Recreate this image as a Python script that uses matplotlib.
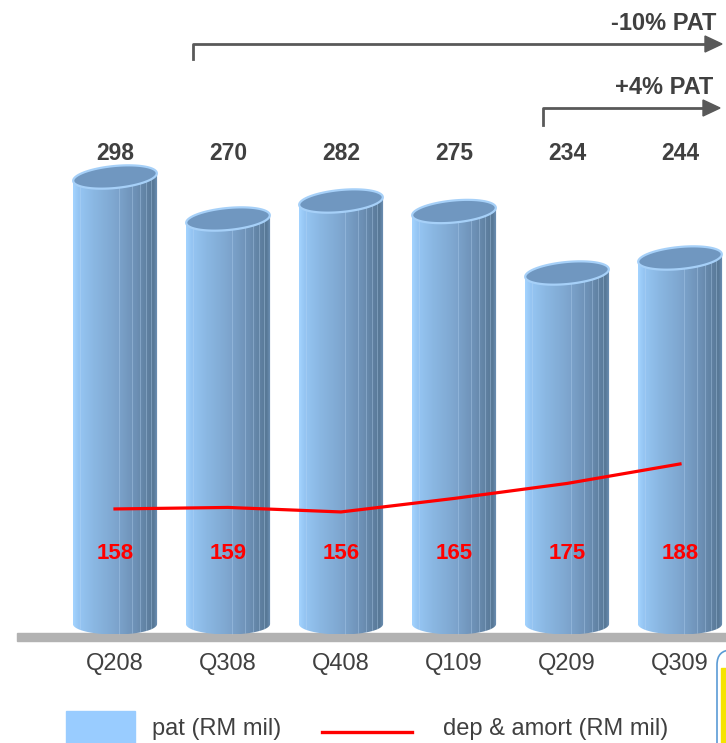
import numpy as np
import matplotlib
matplotlib.use("Agg")
import matplotlib.pyplot as plt
from matplotlib.patches import PathPatch, Rectangle, Polygon, FancyBboxPatch
from matplotlib.path import Path
from matplotlib.colors import LinearSegmentedColormap
from matplotlib.lines import Line2D

# data
quarters = ["Q208", "Q308", "Q408", "Q109", "Q209", "Q309"]
pat = [298, 270, 282, 275, 234, 244]
dep_amort = [158, 159, 156, 165, 175, 188]

plt.rcParams['font.family'] = ['Liberation Sans', 'DejaVu Sans']
W, H = 726, 743
fig = plt.figure(figsize=(W / 100, H / 100), dpi=100)

def fx(px):
    return px / W

def fy(py):
    return 1 - py / H

# main axes fills the figure, 113 px per category, 1.5 px per unit
XS, YS = 113.0, 1.5
ax = fig.add_axes([0, 0, 1, 1])
ax.set_xlim(-115 / XS, (W - 115) / XS)
ax.set_ylim(-(H - 624) / YS, 624 / YS)
ax.axis("off")

xs = np.arange(len(quarters))
bw = 0.745
eh = 7.0  # half height of the base ellipse (data units)

side = LinearSegmentedColormap.from_list(
    "side", [(0, "#a4d4ff"), (0.06, "#96c6f4"), (0.25, "#8ab7e2"),
             (0.5, "#7ea6cf"), (0.75, "#6c8fb4"), (0.95, "#587896"),
             (1, "#6f93b8")])
grad = np.linspace(0, 1, 256).reshape(1, -1)

# floor
ax.add_patch(Rectangle((-98 / XS, -11.5), 10, 5.8, color="#b2b2b2", zorder=1))


def tilted_ellipse(cx, cy, a=42, b=11, ang=5.5, n=80):
    # ellipse drawn in pixel space, returned in data units
    t = np.linspace(0, 2 * np.pi, n)
    r = np.radians(ang)
    px = a * np.cos(t) * np.cos(r) - b * np.sin(t) * np.sin(r)
    py = a * np.cos(t) * np.sin(r) + b * np.sin(t) * np.cos(r)
    return np.column_stack([cx + px / XS, cy + py / YS])


for i, (x, v) in enumerate(zip(xs, pat)):
    x0, x1 = x - bw / 2, x + bw / 2
    d = 42 * np.sin(np.radians(5.5)) / YS
    t = np.linspace(np.pi, 2 * np.pi, 40)
    bottom = np.column_stack([x + bw / 2 * np.cos(t), eh * np.sin(t)])
    verts = np.vstack([[x0, v - d], bottom, [x1, v + d], [x0, v - d]])
    body = PathPatch(Path(verts), facecolor="none", edgecolor="none")
    ax.add_patch(body)
    im = ax.imshow(grad, cmap=side, extent=(x0, x1, -eh, v + d), aspect="auto",
                   zorder=2, interpolation="bilinear")
    im.set_clip_path(body)
    # faint vertical stripes
    for s in [0.09, 0.55, 0.7, 0.8, 0.87, 0.93]:
        ax.plot([x0 + s * bw] * 2, [v + d, -eh], color="#b9d8f6", lw=0.7,
                alpha=0.35, zorder=3, clip_path=body)
    ax.add_patch(Polygon(tilted_ellipse(x, v), closed=True, facecolor="#7097c0",
                         edgecolor="#a6d0f8", lw=1.6, zorder=4))
    ax.text(x, 314, str(v), ha="center", va="center", fontsize=16.5,
            fontweight="bold", color="#404040")
    ax.text(x, -26.5, quarters[i], ha="center", va="center",
            fontsize=17, color="#404040")

# line on its own scale
ax2 = ax.twinx()
ax2.set_position([0, 0, 1, 1])
lo, hi = ax.get_ylim()
ax2.set_ylim(lo + 81.3, hi + 81.3)
ax2.set_xlim(ax.get_xlim())
ax2.axis("off")
ax2.plot(xs, dep_amort, color="#ff0000", lw=2.3, zorder=5)
for x, dv in zip(xs, dep_amort):
    ax.text(x, 47, str(dv), ha="center", va="center", fontsize=16,
            fontweight="bold", color="#ff0000", zorder=6)

# growth arrows
ac = "#595959"
fig.add_artist(Line2D([fx(193), fx(193), fx(708)], [fy(59), fy(44), fy(44)],
                      color=ac, lw=2.0))
fig.add_artist(Polygon([[fx(705), fy(36)], [fx(722), fy(44)], [fx(705), fy(52)]],
                       closed=True, color=ac))
fig.text(fx(716), fy(23), "-10% PAT", ha="right", va="center", fontsize=17,
         fontweight="bold", color="#404040")
fig.add_artist(Line2D([fx(543), fx(543), fx(706)], [fy(125), fy(108), fy(108)],
                      color=ac, lw=2.0))
fig.add_artist(Polygon([[fx(703), fy(100)], [fx(720), fy(108)], [fx(703), fy(116)]],
                       closed=True, color=ac))
fig.text(fx(713), fy(87), "+4% PAT", ha="right", va="center", fontsize=17,
         fontweight="bold", color="#404040")

# legend
fig.add_artist(Rectangle((fx(66), fy(745)), fx(69), 34 / H, color="#99ccff"))
fig.text(fx(152), fy(729), "pat (RM mil)", ha="left", va="center",
         fontsize=17, color="#404040")
fig.add_artist(Line2D([fx(322), fx(412)], [fy(732), fy(732)], color="#ff0000", lw=2.4))
fig.text(fx(443), fy(729), "dep & amort (RM mil)", ha="left", va="center",
         fontsize=17, color="#404040")

# corner of a logo cut off at the right edge
fig.add_artist(FancyBboxPatch((fx(717), fy(800)), fx(60), 150 / H,
                              boxstyle="round,pad=0,rounding_size=0.02",
                              facecolor="white", edgecolor="#5b9bd5", lw=1.2))
fig.add_artist(Rectangle((fx(721), fy(743)), fx(10), 75 / H, color="#f5e400"))

fig.savefig("out.png", dpi=100)
